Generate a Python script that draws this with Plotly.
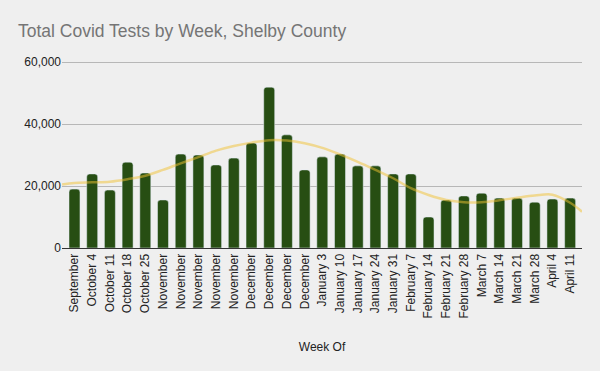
import plotly.graph_objects as go

week_labels = ["September", "October 4", "October 11", "October 18", "October 25",
               "November", "November", "November", "November", "November",
               "December", "December", "December", "December",
               "January 3", "January 10", "January 17", "January 24", "January 31",
               "February 7", "February 14", "February 21", "February 28",
               "March 7", "March 14", "March 21", "March 28", "April 4", "April 11"]

total_tests = [19000, 23900, 18700, 27700, 24200,
               15500, 30300, 30000, 26800, 29000,
               33900, 51900, 36500, 25200,
               29400, 30300, 26500, 26500, 23900,
               23900, 10000, 15500, 16800,
               17700, 16100, 16100, 14800, 15800, 16100]

# trendline (position index, value)
trend_x = [-0.7, 0, 1, 2, 3, 4, 5, 6, 7, 8, 9, 10, 11, 12, 13, 14, 15, 16, 17, 18,
           19, 20, 21, 22, 23, 24, 25, 26, 27, 28, 28.67]
trend_y = [20500, 21000, 21200, 21400, 22200, 23300, 25200, 27300, 29300, 31400, 32900,
           34000, 34800, 34700, 33800, 32300, 30200, 27800, 25200, 22500,
           19300, 17100, 15500, 14800, 14800, 15400, 16200, 16900, 17200, 14600, 11700]

y_ticks = [0, 20000, 40000, 60000]
y_tick_text = ["0", "20,000", "40,000", "60,000"]

x_pos = list(range(len(week_labels)))

fig = go.Figure()
fig.add_trace(go.Bar(x=x_pos, y=total_tests, marker=dict(color="#274e13", cornerradius=3),
                     width=0.62, showlegend=False))
fig.add_trace(go.Scatter(x=trend_x, y=trend_y, mode="lines",
                         line=dict(color="rgba(241,194,50,0.5)", width=2.5, shape="spline"),
                         showlegend=False))

fig.update_layout(
    width=600, height=371,
    paper_bgcolor="#efefef", plot_bgcolor="#efefef",
    margin=dict(l=62, r=18, t=61, b=123),
    font=dict(family="Liberation Sans, Arial, sans-serif", size=12, color="#222222"),
    title=dict(text="Total Covid Tests by Week, Shelby County",
               font=dict(size=17.5, color="#757575"),
               x=18/600, xref="container", xanchor="left",
               y=1 - 31/371, yref="container", yanchor="middle"),
)
fig.update_xaxes(range=[-0.706, 28.67], tickmode="array", tickvals=x_pos, ticktext=week_labels,
                 tickangle=-90, showgrid=False, showline=True, linecolor="#333333", linewidth=1,
                 ticks="", title=dict(text="Week Of", font=dict(size=12, color="#222222"), standoff=25),
                 automargin=False, zeroline=False)
fig.update_yaxes(range=[0, 60330], tickmode="array", tickvals=y_ticks, ticktext=y_tick_text,
                 showgrid=True, gridcolor="#b7b7b7", gridwidth=1, zeroline=False,
                 showline=False, ticks="")

fig.write_html("out.html", config={"displayModeBar": False},
               post_script="document.body.style.margin='0';document.body.style.background='#efefef';")
